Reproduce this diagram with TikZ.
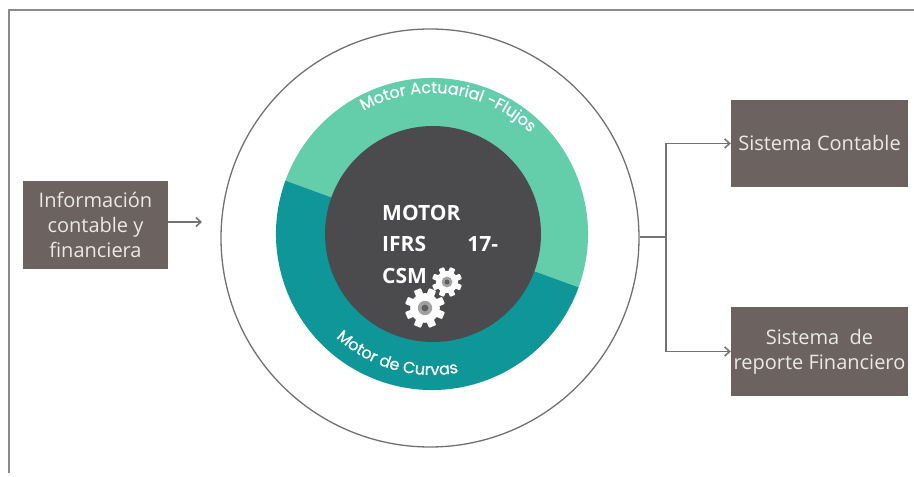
\documentclass[tikz,border=0pt]{standalone}
\usepackage{fontspec}
\setmainfont{Open Sans}
\newfontfamily\arcfont[FakeBold=0.8]{Poppins}
\usetikzlibrary{arrows.meta,decorations.text}
\definecolor{boxc}{HTML}{6C6360}
\definecolor{boxtext}{HTML}{ECE8E6}
\definecolor{ringlight}{HTML}{64CDAA}
\definecolor{ringdark}{HTML}{0E9698}
\definecolor{corec}{HTML}{4B4B4D}
\definecolor{linec}{HTML}{727272}
\definecolor{framec}{HTML}{8A8A8A}
\definecolor{hubc}{HTML}{A2A2A2}
\definecolor{hubin}{HTML}{5E5E5E}
\newcommand{\mygear}[3]{%
  \begin{scope}[shift={(#1,#2)}]
    \fill[white] (0,0) circle[radius=0.74*#3];
    \foreach \a in {0,45,...,315}
      \fill[white, rounded corners=0.8pt, rotate=\a+22.5] (-0.19*#3,0) rectangle (0.19*#3,#3);
    \fill[hubc] (0,0) circle[radius=0.36*#3];
    \fill[hubin] (0,0) circle[radius=0.17*#3];
  \end{scope}}
\begin{document}
\begin{tikzpicture}[x=1pt,y=1pt,
  sysbox/.style={fill=boxc, text=boxtext, inner sep=0pt, align=center,
    font=\fontsize{20}{25}\selectfont},
  conn/.style={draw=linec, line width=1.5pt},
  arr/.style={conn, -{Straight Barb[length=5pt,width=9pt]}},
  arctext/.style={decorate, decoration={text along path, text align=center,
    text color=white, text={|\arcfont\fontsize{16}{16}\selectfont|#1}}}
]
\useasboundingbox (0,0) rectangle (914,477);
\fill[white] (0,0) rectangle (914,477);
\draw[framec, line width=1.5pt] (9,4) -- (9,467) -- (914,467);

% outer circle
\node[circle, draw=linec, line width=1.3pt, minimum size=418pt, inner sep=0pt] (outer) at (430,239) {};
% ring
\fill[ringlight] (432,243) -- ++(-20:156) arc[start angle=-20, end angle=160, radius=156] -- cycle;
\fill[ringdark] (432,243) -- ++(160:156) arc[start angle=160, end angle=340, radius=156] -- cycle;
% core
\node[circle, fill=corec, minimum size=216pt, inner sep=0pt] (core) at (433,243) {};

% arc texts
\path[arctext={Motor Actuarial -Flujos}] (432,243) ++(137:141) arc[start angle=137, end angle=28, radius=141];
\path[arctext={Motor de Curvas}] (432,243) ++(209:141) arc[start angle=209, end angle=299, radius=141];

% central text
\node[anchor=north west, inner sep=0pt, text width=116pt, align=left, text=white,
  font=\bfseries\fontsize{21}{31.5}\selectfont] (coretext) at (382,272) {MOTOR\\IFRS\hfill 17-\\CSM};

% gears
\mygear{447}{195}{15}
\mygear{425}{169}{20}

% boxes
\node[sysbox, minimum width=145pt, minimum height=88pt] (info) at (95.5,252) {Información\\contable y\\financiera};
\node[sysbox, minimum width=177pt, minimum height=87pt] (cont) at (819.5,333.5) {Sistema Contable};
\node[sysbox, minimum width=177pt, minimum height=89pt] (rep) at (819.5,125.5) {Sistema\ \ de\\reporte Financiero};

% connectors
\coordinate (inend) at (202,255);
\draw[arr] (info.east |- inend) -- (inend);
\coordinate (split) at (666,240);
\draw[conn] (outer.east |- split) -- (split);
\draw[arr] (split) |- (cont.west);
\draw[arr] (split) |- (rep.west);
\end{tikzpicture}
\end{document}
